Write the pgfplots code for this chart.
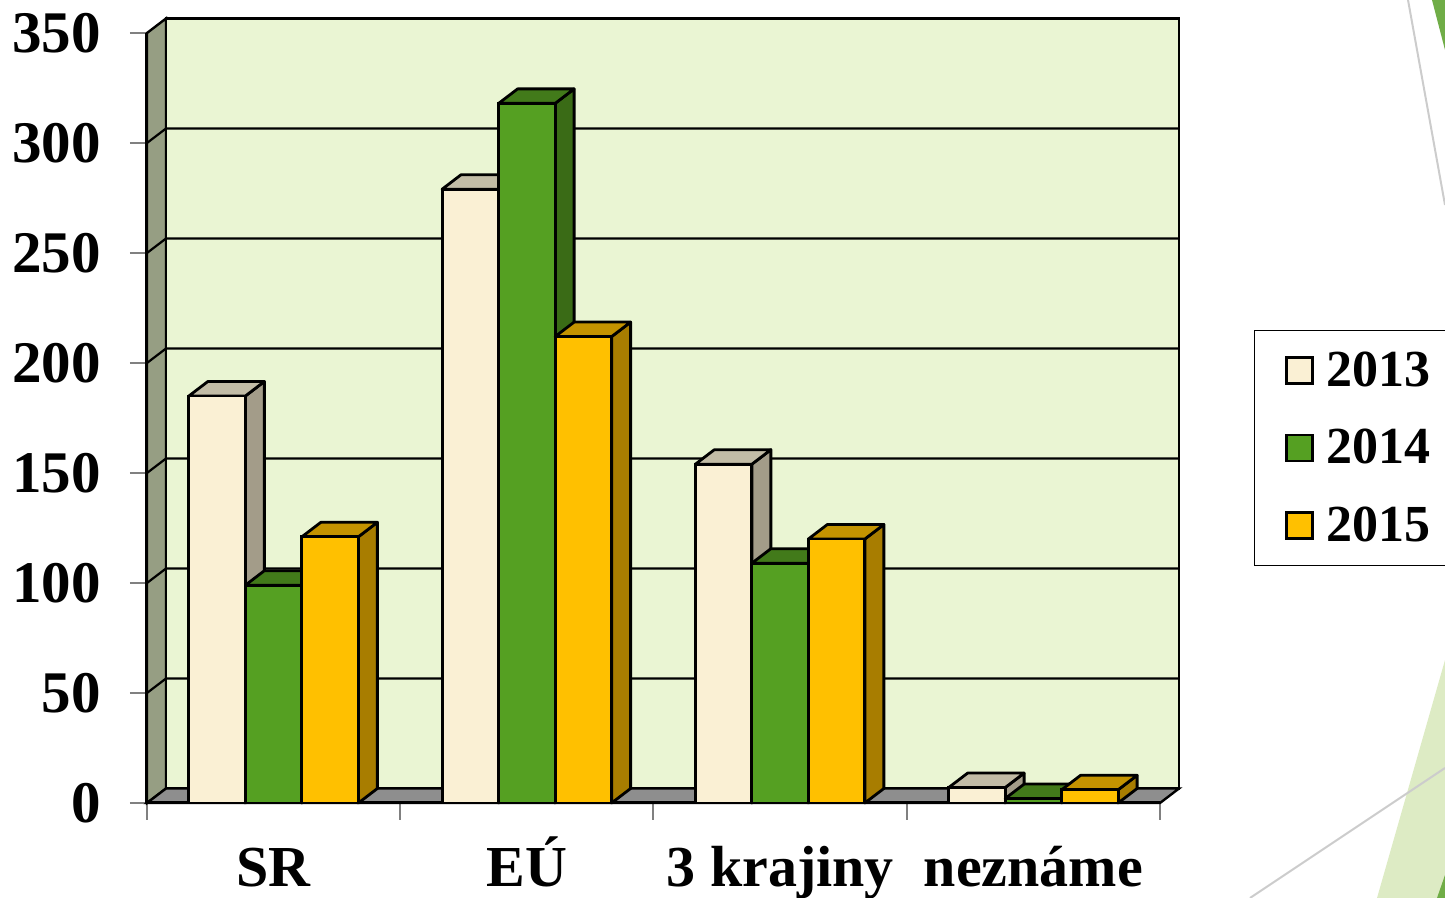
\documentclass[border=0pt]{standalone}
\usepackage{fontspec}
\setmainfont{Liberation Serif}
\usepackage{pgfplots}
\pgfplotsset{compat=1.18}
\definecolor{wallg}{HTML}{EAF5D3}
\definecolor{lwall}{HTML}{969E83}
\definecolor{floorg}{HTML}{8E8E8E}
\definecolor{fA}{HTML}{FAF0D4}\definecolor{sA}{HTML}{A39C89}\definecolor{tA}{HTML}{C2BCA6}
\definecolor{fB}{HTML}{55A022}\definecolor{sB}{HTML}{3A6B16}\definecolor{tB}{HTML}{427A1A}
\definecolor{fC}{HTML}{FFC000}\definecolor{sC}{HTML}{A87D00}\definecolor{tC}{HTML}{C49300}
\definecolor{decog}{HTML}{70AD47}
\definecolor{decolg}{HTML}{DDEBC4}
\definecolor{decoline}{HTML}{CCCCCC}

% depth faces (side + top) of a 3D bar; origin = (category, value)
\newcommand\depthfaces[3]{%
  \pgfmathsetlengthmacro\dfhh{\myy*1.1pt}%
  \pgfmathsetlengthmacro\dfxl{#1-14.125pt}%
  \pgfmathsetlengthmacro\dfxr{#1+14.125pt}%
  \pgfsetlinewidth{1.4pt}\pgfsetroundjoin\pgfsetstrokecolor{black}%
  \pgfsetfillcolor{#2}%
  \pgfpathmoveto{\pgfpoint{\dfxr}{-\dfhh}}%
  \pgfpathlineto{\pgfpoint{\dfxr+9.5pt}{-\dfhh+7.25pt}}%
  \pgfpathlineto{\pgfpoint{\dfxr+9.5pt}{7.25pt}}%
  \pgfpathlineto{\pgfpoint{\dfxr}{0pt}}%
  \pgfpathclose\pgfusepath{fill,stroke}%
  \pgfsetfillcolor{#3}%
  \pgfpathmoveto{\pgfpoint{\dfxl}{0pt}}%
  \pgfpathlineto{\pgfpoint{\dfxr}{0pt}}%
  \pgfpathlineto{\pgfpoint{\dfxr+9.5pt}{7.25pt}}%
  \pgfpathlineto{\pgfpoint{\dfxl+9.5pt}{7.25pt}}%
  \pgfpathclose\pgfusepath{fill,stroke}%
}
\pgfdeclareplotmark{depthA}{\depthfaces{-28.25pt}{sA}{tA}}
\pgfdeclareplotmark{depthB}{\depthfaces{0pt}{sB}{tB}}
\pgfdeclareplotmark{depthC}{\depthfaces{28.25pt}{sC}{tC}}

\pgfplotstableread{
x y
0 185
1 279
2 154
3 7
}\dataA
\pgfplotstableread{
x y
0 99
1 318
2 109
3 2
}\dataB
\pgfplotstableread{
x y
0 121
1 212
2 120
3 6
}\dataC

\begin{document}
\begin{tikzpicture}
\useasboundingbox (-73.5pt,-47.5pt) rectangle (649pt,401.5pt);
% slide decoration
\fill[decog] (642.5pt,401.5pt) -- (649pt,401.5pt) -- (649pt,376.5pt) -- cycle;
\draw[decoline, line width=1pt] (630.5pt,401.5pt) -- (649pt,299pt);
\fill[decolg] (649pt,71.5pt) -- (649pt,-47.5pt) -- (615pt,-47.5pt) -- cycle;
\fill[decog] (645pt,-47.5pt) -- (649pt,-47.5pt) -- (649pt,-36pt) -- cycle;
\draw[decoline, line width=1pt] (551.5pt,-47.5pt) -- (649pt,17.5pt);
\begin{axis}[
  at={(0pt,0pt)}, anchor=south west,
  scale only axis, width=506.5pt, height=385pt,
  xmin=-0.5, xmax=3.5, ymin=0, ymax=350,
  clip=false, clip marker paths=true,
  axis line style={draw=none},
  tick pos=left,
  ytick={0,50,...,350},
  xtick={-0.5,0.5,1.5,2.5,3.5}, xticklabels={,,,,},
  extra x ticks={0,1,2,3},
  extra x tick labels={SR,EÚ,3 krajiny,neznáme},
  extra x tick style={major tick length=0pt, tick style={draw=none},
     xticklabel style={font=\fontsize{29}{32}\selectfont\bfseries, anchor=base, yshift=-42pt}},
  tick align=outside, major tick length=8.5pt,
  tick style={draw=gray, line width=1pt},
  yticklabel style={font=\fontsize{29.5}{32}\selectfont\bfseries, xshift=-11pt},
  /pgf/number format/assume math mode=true,
  legend style={at={(1.0928,0.6143)}, anchor=north west, draw=black, line width=0.7pt,
    font=\fontsize{26}{30}\selectfont\bfseries, inner xsep=16pt, inner ysep=10.5pt,
    row sep=20pt, nodes={inner sep=0pt},
    cells={anchor=west}},
  legend image code/.code={%
    \path[use as bounding box, draw=none, fill=none] (0pt,-6.75pt) rectangle (20pt,6.75pt);
    \draw[#1, line width=1.4pt] (0pt,-6.5pt) rectangle (13pt,6.5pt);},
]
% left wall
\filldraw[fill=lwall, draw=black, line width=1.2pt]
  (axis cs:-0.5,0) -- ([shift={(9.5pt,7.25pt)}]axis cs:-0.5,0)
  -- ([shift={(9.5pt,7.25pt)}]axis cs:-0.5,350) -- (axis cs:-0.5,350) -- cycle;
% back wall
\filldraw[fill=wallg, draw=black, line width=1.2pt]
  ([shift={(9.5pt,7.25pt)}]axis cs:-0.5,0) rectangle ([shift={(9.5pt,7.25pt)}]axis cs:3.5,350);
% floor
\filldraw[fill=floorg, draw=black, line width=1.2pt]
  (axis cs:-0.5,0) -- (axis cs:3.5,0) -- ([shift={(9.5pt,7.25pt)}]axis cs:3.5,0)
  -- ([shift={(9.5pt,7.25pt)}]axis cs:-0.5,0) -- cycle;
% gridlines
\pgfplotsinvokeforeach{50,100,150,200,250,300}{
  \draw[black, line width=1.1pt] (axis cs:-0.5,#1) -- ([shift={(9.5pt,7.25pt)}]axis cs:-0.5,#1)
    -- ([shift={(9.5pt,7.25pt)}]axis cs:3.5,#1);
}
% front edges
\draw[black, line width=1.5pt] (axis cs:-0.5,350) -- (axis cs:-0.5,0) -- (axis cs:3.5,0);

\addplot[scatter, only marks, mark=depthA, forget plot,
  visualization depends on={rawy \as \myy}] table[x=x,y=y] {\dataA};
\addplot[ybar, bar width=28.25pt, bar shift=-28.25pt, fill=fA, draw=black, line width=1.4pt]
  table[x=x,y=y] {\dataA};
\addlegendentry{2013}
\addplot[scatter, only marks, mark=depthB, forget plot,
  visualization depends on={rawy \as \myy}] table[x=x,y=y] {\dataB};
\addplot[ybar, bar width=28.25pt, bar shift=0pt, fill=fB, draw=black, line width=1.4pt]
  table[x=x,y=y] {\dataB};
\addlegendentry{2014}
\addplot[scatter, only marks, mark=depthC, forget plot,
  visualization depends on={rawy \as \myy}] table[x=x,y=y] {\dataC};
\addplot[ybar, bar width=28.25pt, bar shift=28.25pt, fill=fC, draw=black, line width=1.4pt]
  table[x=x,y=y] {\dataC};
\addlegendentry{2015}
\end{axis}
\end{tikzpicture}
\end{document}
